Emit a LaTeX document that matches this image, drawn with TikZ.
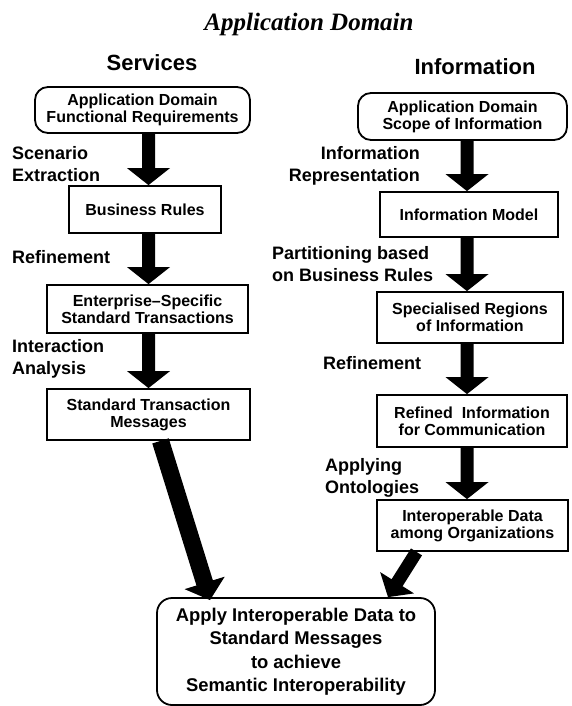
\documentclass[tikz,border=0pt]{standalone}
\usepackage{fontspec}
\setmainfont{Liberation Sans}
\newfontfamily\titlefont{Liberation Serif}
\usetikzlibrary{calc}

\tikzset{
  box/.style={draw, line width=1.8pt, inner sep=0pt, align=center,
    font=\bfseries\fontsize{16}{17}\selectfont},
  roundbox/.style={box, rounded corners=13pt},
  lbl/.style={inner sep=0pt, font=\bfseries\fontsize{18}{22}\selectfont},
  colhead/.style={inner sep=0pt, anchor=base, font=\bfseries\fontsize{22}{26}\selectfont},
}

% thick block arrow: #1 start, #2 tip, #3 half shaft width,
% #4 half head width, #5 head length
\newcommand\fatarrow[5]{%
  \path ($(#2)!#5!(#1)$) coordinate (fa-h);
  \fill ($(#1)!#3!90:(#2)$) -- ($(fa-h)!#3!90:(#2)$) -- ($(fa-h)!#4!90:(#2)$)
    -- (#2) -- ($(fa-h)!#4!-90:(#2)$) -- ($(fa-h)!#3!-90:(#2)$)
    -- ($(#1)!#3!-90:(#2)$) -- cycle;
}

\begin{document}
\begin{tikzpicture}[x=1pt,y=-1pt]
\useasboundingbox (0,0) rectangle (571,706);

% headings
\node[anchor=base, inner sep=0pt,
  font=\titlefont\bfseries\itshape\fontsize{25}{30}\selectfont] (title) at (309,31) {Application Domain};
\node[colhead] (services) at (152,71) {Services};
\node[colhead] (information) at (475,75) {Information};

% services column
\node[roundbox, minimum width=215pt, minimum height=46pt] (lreq) at (142.5,110)
  {Application Domain\\Functional Requirements};
\node[box, minimum width=152pt, minimum height=47pt] (lbr) at (145,209.5) {Business Rules};
\node[box, minimum width=201pt, minimum height=48pt] (lent) at (147.5,309)
  {Enterprise\textendash Specific\\Standard Transactions};
\node[box, minimum width=203pt, minimum height=51pt] (lstm) at (148.5,414.5)
  {Standard Transaction\\Messages};

% information column
\node[roundbox, minimum width=209pt, minimum height=47pt] (rscope) at (462.5,116.5)
  {Application Domain\\Scope of Information};
\node[box, minimum width=178pt, minimum height=45pt] (rim) at (469,214.5) {Information Model};
\node[box, minimum width=186pt, minimum height=51pt] (rsr) at (470,317.5)
  {Specialised Regions\\of Information};
\node[box, minimum width=190pt, minimum height=52pt] (rri) at (472,421)
  {Refined\ \ Information\\for Communication};
\node[box, minimum width=191pt, minimum height=51pt] (rid) at (472.5,525.5)
  {Interoperable Data\\among Organizations};

% result
\node[box, rounded corners=15pt, minimum width=278pt, minimum height=107pt,
  font=\bfseries\fontsize{18.4}{23.5}\selectfont] (bot) at (296,651.5)
  {Apply Interoperable Data to\\Standard Messages\\to achieve\\Semantic Interoperability};

% step labels
\node[lbl, anchor=west, align=left] (scen) at (12,164) {Scenario\\Extraction};
\node[lbl, anchor=west] (ref1) at (12,257) {Refinement};
\node[lbl, anchor=west, align=left] (inter) at (12,359) {Interaction\\Analysis};
\node[lbl, anchor=east, align=right] (irep) at (420,166) {Information\\Representation};
\node[lbl, anchor=west, align=left] (part) at (272,264) {Partitioning based\\on Business Rules};
\node[lbl, anchor=west] (ref2) at (323,363) {Refinement};
\node[lbl, anchor=west, align=left] (onto) at (325,478) {Applying\\Ontologies};

% arrow axes
\coordinate (lx) at (148.5,0);
\coordinate (rx) at (467,0);

\coordinate (a1s) at (lreq.south -| lx);  \coordinate (a1e) at (lbr.north -| lx);
\coordinate (a2s) at (lbr.south -| lx);   \coordinate (a2e) at (lent.north -| lx);
\coordinate (a3s) at (lent.south -| lx);  \coordinate (a3e) at (lstm.north -| lx);
\coordinate (b1s) at (rscope.south -| rx); \coordinate (b1e) at (rim.north -| rx);
\coordinate (b2s) at (rim.south -| rx);   \coordinate (b2e) at (rsr.north -| rx);
\coordinate (b3s) at (rsr.south -| rx);   \coordinate (b3e) at (rri.north -| rx);
\coordinate (b4s) at (rri.south -| rx);   \coordinate (b4e) at (rid.north -| rx);
\coordinate (c1s) at ([xshift=12pt]lstm.south);
\coordinate (c1e) at ([xshift=-86pt,yshift=-3pt]bot.north);
\coordinate (c2s) at ([xshift=-56pt]rid.south);
\coordinate (c2e) at ([xshift=92pt]bot.north);

\fatarrow{a1s}{a1e}{6.5pt}{21.5pt}{17pt}
\fatarrow{a2s}{a2e}{6.5pt}{21.5pt}{17pt}
\fatarrow{a3s}{a3e}{6.5pt}{21.5pt}{17pt}
\fatarrow{b1s}{b1e}{6.5pt}{21.5pt}{17pt}
\fatarrow{b2s}{b2e}{6.5pt}{21.5pt}{17pt}
\fatarrow{b3s}{b3e}{6.5pt}{21.5pt}{17pt}
\fatarrow{b4s}{b4e}{6.5pt}{21.5pt}{17pt}
\fatarrow{c1s}{c1e}{8.6pt}{21pt}{18pt}
\fatarrow{c2s}{c2e}{6.5pt}{20pt}{17pt}
\end{tikzpicture}
\end{document}
